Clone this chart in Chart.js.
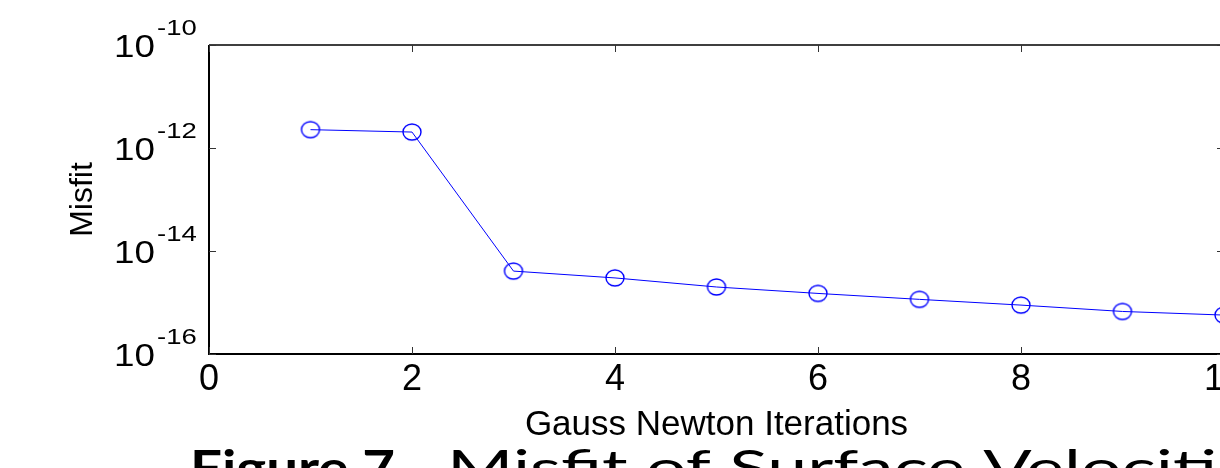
<!DOCTYPE html>
<html lang="en">
<head>
    <meta charset="UTF-8">
    <title>Misfit vs Gauss Newton Iterations</title>
    <script src="https://cdn.jsdelivr.net/npm/chart.js"></script>
    <style>
        html, body {
            margin: 0;
            padding: 0;
            background: #fff;
            overflow: hidden;
        }
        #wrap {
            width: 1240px;
            height: 468px;
        }
    </style>
</head>
<body>
    <div id="wrap"><canvas id="misfit-chart" width="1240" height="468"></canvas></div>

    <script>
        // data
        const iterations = [1, 2, 3, 4, 5, 6, 7, 8, 9, 10];
        const misfit = [2.27e-12, 2.04e-12, 4.07e-15, 3.0e-15, 2.0e-15, 1.5e-15, 1.15e-15, 8.9e-16, 6.7e-16, 5.7e-16];
        const xTicks = [0, 2, 4, 6, 8, 10];
        const yExponents = [-16, -14, -12, -10];

        const FONT = '"Liberation Sans", Arial, sans-serif';
        const CAPTION_FONT = 'Lato, "Open Sans", sans-serif';

        // open ellipse marker, the 'o' of the original plot is slightly squashed
        const marker = document.createElement('canvas');
        marker.width = 22;
        marker.height = 20;
        const mctx = marker.getContext('2d');
        mctx.strokeStyle = '#0000ff';
        mctx.lineWidth = 1.4;
        mctx.beginPath();
        mctx.ellipse(11, 10, 9, 8, 0, 0, Math.PI * 2);
        mctx.stroke();

        // MATLAB-ish box, inward ticks, 10^n labels and the caption
        const matlabAxes = {
            id: 'matlabAxes',
            afterDraw(chart) {
                const { ctx, chartArea: a, scales: { x, y } } = chart;
                ctx.save();
                ctx.strokeStyle = '#000';

                ctx.lineWidth = 2;
                ctx.beginPath();
                ctx.moveTo(a.left, a.top);
                ctx.lineTo(a.left, a.bottom);
                ctx.lineTo(a.right, a.bottom);
                ctx.stroke();
                ctx.lineWidth = 1.5;
                ctx.beginPath();
                ctx.moveTo(a.left, a.top);
                ctx.lineTo(a.right, a.top);
                ctx.lineTo(a.right, a.bottom);
                ctx.stroke();

                ctx.lineWidth = 1;
                ctx.strokeStyle = '#333';
                ctx.beginPath();
                xTicks.forEach(v => {
                    const px = Math.round(x.getPixelForValue(v)) + 0.5;
                    ctx.moveTo(px, a.bottom); ctx.lineTo(px, a.bottom - 7);
                    ctx.moveTo(px, a.top); ctx.lineTo(px, a.top + 7);
                });
                yExponents.forEach(e => {
                    const py = Math.round(y.getPixelForValue(Math.pow(10, e))) + 0.5;
                    ctx.moveTo(a.left, py); ctx.lineTo(a.left + 7, py);
                    ctx.moveTo(a.right, py); ctx.lineTo(a.right - 7, py);
                });
                ctx.stroke();

                // y tick labels with superscript exponent
                ctx.fillStyle = '#000';
                ctx.textBaseline = 'alphabetic';
                yExponents.forEach(e => {
                    const py = y.getPixelForValue(Math.pow(10, e));
                    ctx.save();
                    ctx.translate(a.left - 54, py + 12);
                    ctx.scale(1.15, 1);
                    ctx.font = '32px ' + FONT;
                    ctx.textAlign = 'right';
                    ctx.fillText('10', 0, 0);
                    ctx.restore();
                    ctx.save();
                    ctx.translate(a.left - 52, py - 10);
                    ctx.scale(1.25, 1);
                    ctx.font = '22px ' + FONT;
                    ctx.textAlign = 'left';
                    ctx.fillText(String(e), 0, 0);
                    ctx.restore();
                });

                // figure caption, mostly cut off by the bottom edge
                const base = 485;
                ctx.textAlign = 'left';
                ctx.font = 'bold 48px ' + CAPTION_FONT;
                const fx = 205 / ctx.measureText('Figure 7').width;
                ctx.save();
                ctx.translate(190, base);
                ctx.scale(fx, 1);
                ctx.fillText('Figure 7', 0, 0);
                ctx.restore();

                ctx.font = '48px ' + CAPTION_FONT;
                const sx = 770 / ctx.measureText('Misfit of Surface Velociti').width;
                ctx.save();
                ctx.translate(425, base);
                ctx.scale(sx, 1);
                ctx.textAlign = 'center';
                ctx.fillText('-', 0, 0);
                ctx.restore();
                ctx.save();
                ctx.translate(447, base);
                ctx.scale(sx, 1);
                ctx.textAlign = 'left';
                ctx.fillText('Misfit of Surface Velocities', 0, 0);
                ctx.restore();
                ctx.restore();
            }
        };

        const chart = new Chart(document.getElementById('misfit-chart').getContext('2d'), {
            type: 'line',
            data: {
                datasets: [{
                    data: iterations.map((it, i) => ({ x: it, y: misfit[i] })),
                    borderColor: '#0000ff',
                    borderWidth: 1,
                    pointStyle: marker,
                    pointRadius: 9,
                    tension: 0
                }]
            },
            options: {
                responsive: false,
                animation: false,
                layout: { padding: { left: 0, top: 45, right: 16, bottom: 0 } },
                plugins: { legend: { display: false }, tooltip: { enabled: false } },
                scales: {
                    x: {
                        type: 'linear',
                        min: 0,
                        max: 10,
                        afterBuildTicks: s => { s.ticks = xTicks.map(v => ({ value: v })); },
                        afterFit: s => { s.height = 114; s.paddingLeft = 0; s.paddingRight = 0; },
                        ticks: { color: '#000', font: { family: FONT, size: 36 }, padding: 4, maxRotation: 0, autoSkip: false },
                        grid: { display: false, drawTicks: false },
                        border: { display: false },
                        title: {
                            display: true,
                            text: 'Gauss Newton Iterations',
                            color: '#000',
                            font: { family: FONT, size: 35 },
                            padding: { top: 0, bottom: 22 }
                        }
                    },
                    y: {
                        type: 'logarithmic',
                        min: 1e-16,
                        max: 1e-10,
                        afterBuildTicks: s => { s.ticks = yExponents.map(e => ({ value: Math.pow(10, e) })); },
                        afterFit: s => { s.width = 209; s.paddingTop = 0; s.paddingBottom = 0; },
                        ticks: { display: false },
                        grid: { display: false, drawTicks: false },
                        border: { display: false },
                        title: {
                            display: true,
                            text: 'Misfit',
                            color: '#000',
                            font: { family: FONT, size: 32 },
                            padding: { top: 64, bottom: 0 }
                        }
                    }
                }
            },
            plugins: [matlabAxes]
        });
    </script>
</body>
</html>
